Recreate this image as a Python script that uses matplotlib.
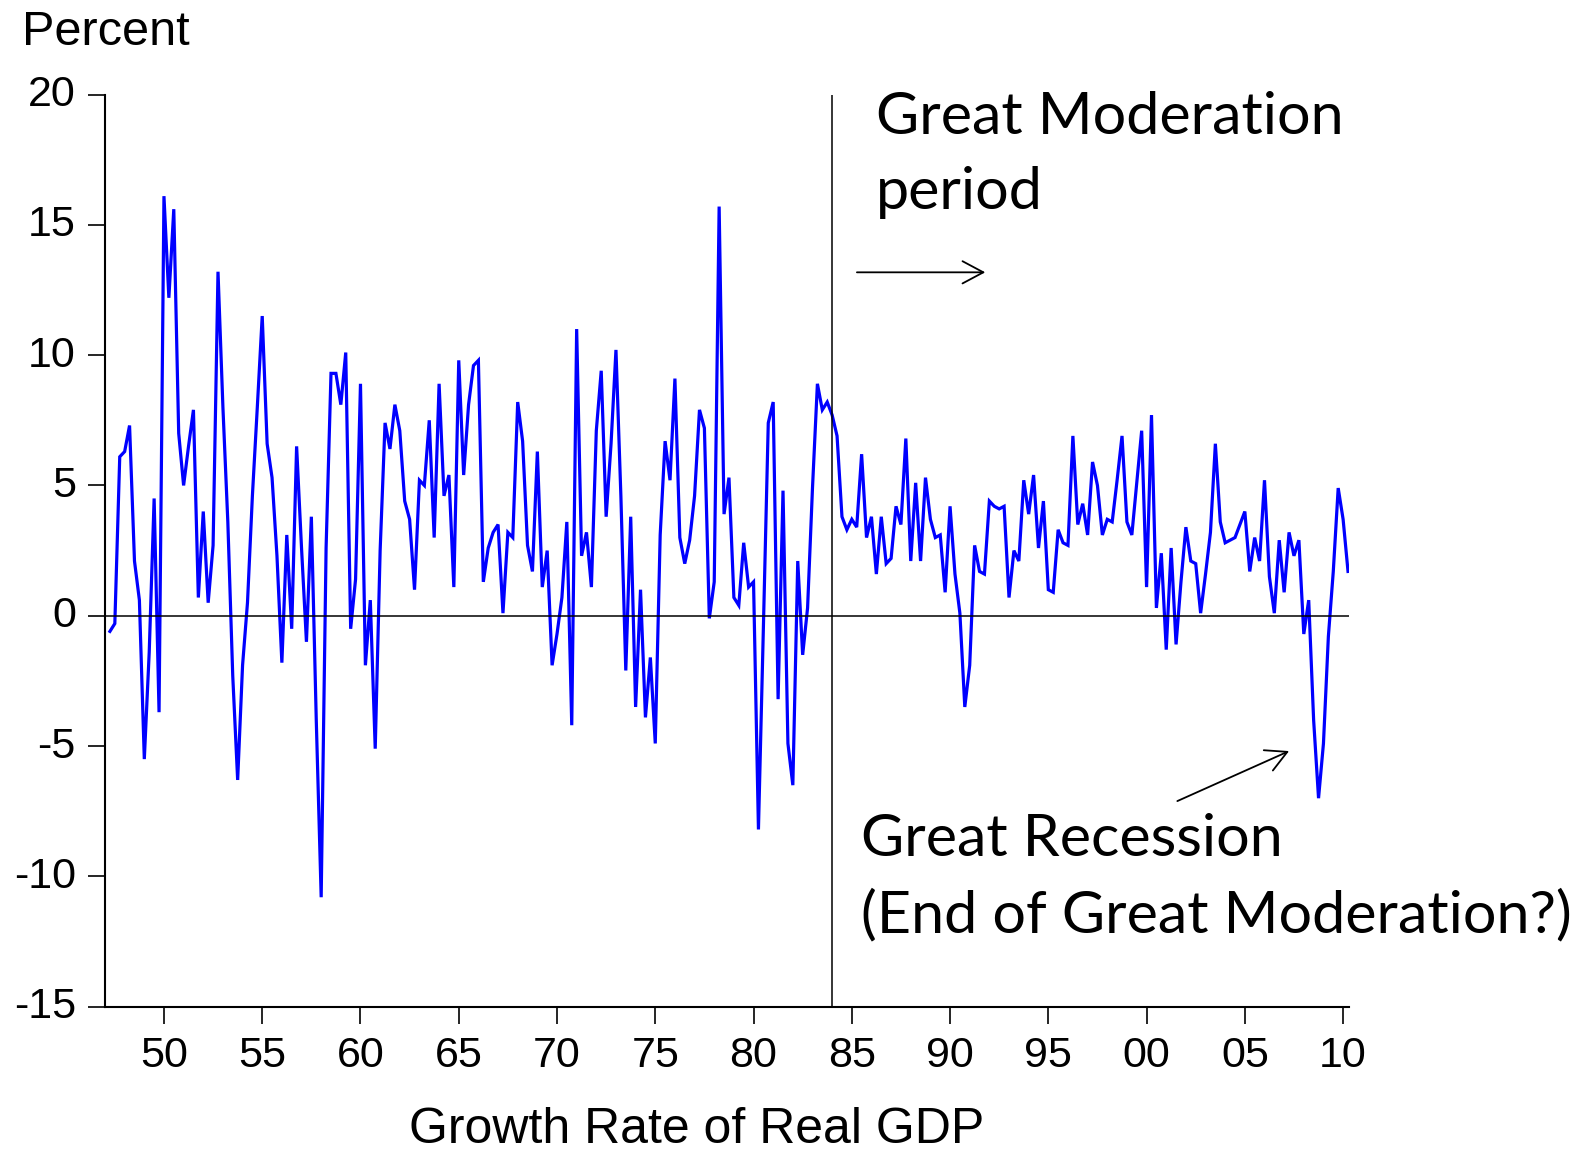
import matplotlib
matplotlib.use("Agg")
import matplotlib.pyplot as plt
import matplotlib.transforms as mtransforms
import numpy as np
import pandas as pd

# ---- data: quarterly growth rate of real GDP (annualized %, 1947Q2-2010Q2) ----
start_quarter = "1947Q2"
end_quarter = "2010Q2"
gdp_growth = [
    -0.6, -0.3, 6.1,                 # 1947 Q2-Q4
    6.3, 7.3, 2.1, 0.6,              # 1948
    -5.5, -1.4, 4.5, -3.7,           # 1949
    16.1, 12.2, 15.6, 7.0,           # 1950
    5.0, 6.5, 7.9, 0.7,              # 1951
    4.0, 0.5, 2.7, 13.2,             # 1952
    8.0, 3.6, -2.3, -6.3,            # 1953
    -1.9, 0.5, 4.6, 8.0,             # 1954
    11.5, 6.6, 5.3, 2.3,             # 1955
    -1.8, 3.1, -0.5, 6.5,            # 1956
    2.6, -1.0, 3.8, -4.0,            # 1957
    -10.8, 2.6, 9.3, 9.3,            # 1958
    8.1, 10.1, -0.5, 1.4,            # 1959
    8.9, -1.9, 0.6, -5.1,            # 1960
    2.5, 7.4, 6.4, 8.1,              # 1961
    7.1, 4.4, 3.7, 1.0,              # 1962
    5.2, 5.0, 7.5, 3.0,              # 1963
    8.9, 4.6, 5.4, 1.1,              # 1964
    9.8, 5.4, 8.1, 9.6,              # 1965
    9.8, 1.3, 2.6, 3.2,              # 1966
    3.5, 0.1, 3.2, 3.0,              # 1967
    8.2, 6.7, 2.7, 1.7,              # 1968
    6.3, 1.1, 2.5, -1.9,             # 1969
    -0.7, 0.7, 3.6, -4.2,            # 1970
    11.0, 2.3, 3.2, 1.1,             # 1971
    7.1, 9.4, 3.8, 6.6,              # 1972
    10.2, 4.6, -2.1, 3.8,            # 1973
    -3.5, 1.0, -3.9, -1.6,           # 1974
    -4.9, 3.1, 6.7, 5.2,             # 1975
    9.1, 3.0, 2.0, 2.9,              # 1976
    4.6, 7.9, 7.2, -0.1,             # 1977
    1.3, 15.7, 3.9, 5.3,             # 1978
    0.7, 0.4, 2.8, 1.1,              # 1979
    1.3, -8.2, -0.5, 7.4,            # 1980
    8.2, -3.2, 4.8, -4.9,            # 1981
    -6.5, 2.1, -1.5, 0.3,            # 1982
    4.9, 8.9, 7.9, 8.2,              # 1983
    7.7, 6.9, 3.8, 3.3,              # 1984
    3.7, 3.4, 6.2, 3.0,              # 1985
    3.8, 1.6, 3.8, 2.0,              # 1986
    2.2, 4.2, 3.5, 6.8,              # 1987
    2.1, 5.1, 2.1, 5.3,              # 1988
    3.7, 3.0, 3.1, 0.9,              # 1989
    4.2, 1.6, 0.1, -3.5,             # 1990
    -1.9, 2.7, 1.7, 1.6,             # 1991
    4.4, 4.2, 4.1, 4.2,              # 1992
    0.7, 2.5, 2.1, 5.2,              # 1993
    3.9, 5.4, 2.6, 4.4,              # 1994
    1.0, 0.9, 3.3, 2.8,              # 1995
    2.7, 6.9, 3.5, 4.3,              # 1996
    3.1, 5.9, 5.0, 3.1,              # 1997
    3.7, 3.6, 5.2, 6.9,              # 1998
    3.6, 3.1, 5.1, 7.1,              # 1999
    1.1, 7.7, 0.3, 2.4,              # 2000
    -1.3, 2.6, -1.1, 1.3,            # 2001
    3.4, 2.1, 2.0, 0.1,              # 2002
    1.6, 3.2, 6.6, 3.6,              # 2003
    2.8, 2.9, 3.0, 3.5,              # 2004
    4.0, 1.7, 3.0, 2.1,              # 2005
    5.2, 1.5, 0.1, 2.9,              # 2006
    0.9, 3.2, 2.3, 2.9,              # 2007
    -0.7, 0.6, -4.0, -7.0,           # 2008
    -4.9, -0.8, 1.7, 4.9,            # 2009
    3.7, 1.7,                        # 2010 Q1-Q2
]
x_tick_years = [1950, 1955, 1960, 1965, 1970, 1975, 1980, 1985,
                1990, 1995, 2000, 2005, 2010]
x_tick_labels = ["50", "55", "60", "65", "70", "75", "80", "85",
                 "90", "95", "00", "05", "10"]
y_ticks = [20, 15, 10, 5, 0, -5, -10, -15]
y_tick_labels = ["20", "15", "10", "5", "0", "-5", "-10", "-15"]
moderation_start = 1984
ylabel_text = "Percent"
xlabel_text = "Growth Rate of Real GDP"
note_top = "Great Moderation\nperiod"
note_bottom = "Great Recession\n(End of Great Moderation?)"

# ---- positions on the time axis ----
periods = pd.period_range(start_quarter, end_quarter, freq="Q")
t = periods.year + (periods.quarter - 1) / 4.0

W, H = 1591, 1151
fig = plt.figure(figsize=(W / 100, H / 100), dpi=100)
left_px, right_px, top_px, bottom_px = 105, 1349, 94.5, 1006.7
ax = fig.add_axes([left_px / W, 1 - bottom_px / H,
                   (right_px - left_px) / W, (bottom_px - top_px) / H])

ax.plot(t, gdp_growth, color="#0000ff", lw=2.3, solid_joinstyle="miter")
ax.axhline(0, color="black", lw=1.1)
ax.axvline(moderation_start, color="black", lw=1.1)

ax.set_xlim(1947.0, 2010.3)
ax.set_ylim(-15, 20)
for s in ["top", "right"]:
    ax.spines[s].set_visible(False)
for s in ["left", "bottom"]:
    ax.spines[s].set_linewidth(1.5)

sans = ["Liberation Sans", "DejaVu Sans"]
ax.set_xticks(x_tick_years)
ax.set_xticklabels(x_tick_labels, fontsize=31, family=sans)
ax.set_yticks(y_ticks)
ax.set_yticklabels(y_tick_labels, fontsize=31, family=sans)
ax.tick_params(axis="y", direction="out", length=12, width=1.2, pad=9)
ax.tick_params(axis="x", direction="out", length=12, width=1.2, pad=9)
shift_up = mtransforms.ScaledTranslation(0, 4 / 100, fig.dpi_scale_trans)
for lab in ax.get_yticklabels():
    lab.set_va("center_baseline")
    lab.set_transform(lab.get_transform() + shift_up)

fig.text(22 / W, 1 - 45 / H, ylabel_text, fontsize=35, family=sans,
         ha="left", va="baseline")
fig.text(696.5 / W, 1 - 1143 / H, xlabel_text, fontsize=36, family=sans,
         ha="center", va="baseline")

# ---- annotations ----
ann = ["Lato", "DejaVu Sans"]
def px2data(xp, yp):
    xd = 1950 + (xp - 164.0) / 19.645
    yd = (615.7 - yp) / 26.06
    return xd, yd

l1 = note_top.split("\n")
l2 = note_bottom.split("\n")
texts = []
for txt, (xp, yp) in [(l1[0], (876, 134)), (l1[1], (876, 209)),
                      (l2[0], (860.5, 856)), (l2[1], (860.5, 932))]:
    xd, yd = px2data(xp, yp)
    texts.append(ax.text(xd, yd, txt, fontsize=40, family=ann,
                         ha="left", va="baseline", clip_on=False))
fig.canvas.draw()
r = fig.canvas.get_renderer()
w = texts[0].get_window_extent(renderer=r).width
fs = 40 * 468.0 / w
for tx in texts:
    tx.set_fontsize(fs)

arrowprops = dict(arrowstyle="->,head_length=0.75,head_width=0.4",
                  color="black", lw=1.3, mutation_scale=20,
                  shrinkA=0, shrinkB=0)
ax.annotate("", xy=px2data(985, 272.3), xytext=px2data(856.7, 272.3),
            arrowprops=arrowprops, annotation_clip=False)
ax.annotate("", xy=px2data(1288.7, 751), xytext=px2data(1177, 801),
            arrowprops=arrowprops, annotation_clip=False)

fig.savefig("out.png", dpi=100)
